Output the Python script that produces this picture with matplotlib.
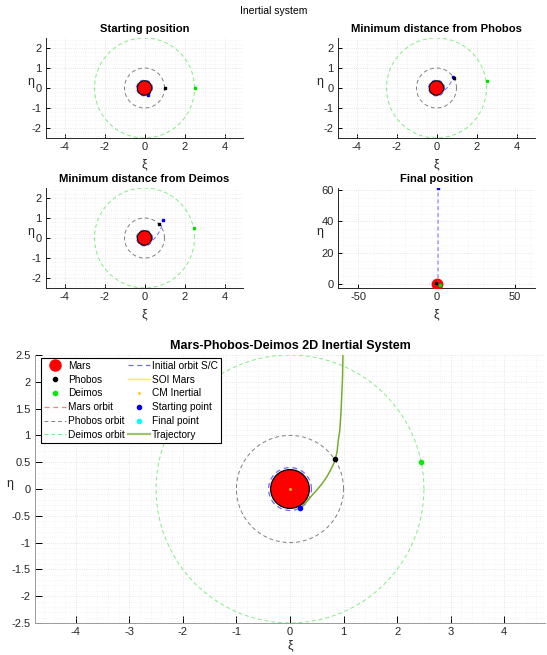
import matplotlib
matplotlib.use("Agg")
import matplotlib.pyplot as plt
from matplotlib.ticker import MultipleLocator, FuncFormatter
from matplotlib.patches import Circle
import numpy as np

plt.rcParams.update({
    "font.family": ["Liberation Sans", "DejaVu Sans"],
    "font.size": 7.5,
    "axes.linewidth": 0.7,
    "axes.unicode_minus": False,
})

C_TXT = "#262626"

# radii in units of the Phobos orbit
R_MARS = 0.3616
R_INIT = 0.40
R_PHOBOS = 1.0
R_DEIMOS = 2.5
R_MARS_ORB = 0.002
R_SOI = 61.5

# S/C trajectory
traj_xi = [0.19, 0.25, 0.31, 0.40, 0.50, 0.60, 0.69, 0.76, 0.81, 0.845,
           0.88, 0.90, 0.93, 0.95, 0.965, 0.98, 0.99, 1.00, 1.02]
traj_eta = [-0.35, -0.30, -0.24, -0.13, -0.02, 0.10, 0.23, 0.36, 0.46, 0.554,
            0.70, 0.90, 1.10, 1.40, 1.72, 2.05, 2.60, 10.0, 61.3]

# snapshots: title, index of S/C on trajectory, Phobos, Deimos positions
snap_titles = ["Starting position", "Minimum distance from Phobos",
               "Minimum distance from Deimos", "Final position"]
snap_idx = [0, 9, 11, 18]
phobos_xi = [1.0, 0.87, 0.70, -0.30]
phobos_eta = [0.0, 0.52, 0.70, 0.95]
deimos_xi = [2.52, 2.50, 2.48, 2.40]
deimos_eta = [0.0, 0.35, 0.48, -0.60]

# main plot body positions
main_phobos = (0.845, 0.554)
main_deimos = (2.45, 0.50)

th = np.linspace(0, 2 * np.pi, 400)
fmt = FuncFormatter(lambda v, p: "%g" % round(v, 6))


def ring(ax, r, **kw):
    return ax.plot(r * np.cos(th), r * np.sin(th), **kw)[0]


def style(ax, xmaj, xmin, ymaj, ymin, spine_col=C_TXT, ticklen=3,
          xl=(0.5, -0.2), yl=(-0.08, 0.56)):
    ax.xaxis.set_major_locator(MultipleLocator(xmaj))
    ax.xaxis.set_minor_locator(MultipleLocator(xmin))
    ax.yaxis.set_major_locator(MultipleLocator(ymaj))
    ax.yaxis.set_minor_locator(MultipleLocator(ymin))
    ax.xaxis.set_major_formatter(fmt)
    ax.yaxis.set_major_formatter(fmt)
    ax.grid(True, which="major", color="#dcdcdc", ls=":", lw=0.6)
    ax.grid(True, which="minor", color="#ececec", ls=":", lw=0.5)
    ax.set_axisbelow(True)
    for s in ("top", "right"):
        ax.spines[s].set_visible(False)
    for s in ("left", "bottom"):
        ax.spines[s].set_color(spine_col)
    ax.tick_params(which="major", direction="in", length=ticklen, width=0.7,
                   color="black", labelcolor=C_TXT, labelsize=8, pad=3)
    ax.tick_params(which="minor", length=0)
    ax.set_xlabel("ξ", fontsize=9, color=C_TXT)
    ax.set_ylabel("η", fontsize=9, color=C_TXT, rotation=0,
                  va="center", ha="center")
    ax.xaxis.set_label_coords(*xl)
    ax.yaxis.set_label_coords(*yl)


W, H = 547, 655
fig = plt.figure(figsize=(W / 100, H / 100), dpi=100, facecolor="white")
fig.text(0.5, 1 - 11 / H, "Inertial system", ha="center", va="center",
         fontsize=7.5, color="black")

boxes = [(46, 38), (338, 38), (46, 188), (338, 188)]
for k, (x0, y0) in enumerate(boxes):
    ax = fig.add_axes([x0 / W, 1 - (y0 + 100) / H, 197 / W, 100 / H])
    i = snap_idx[k]
    final = k == 3
    if not final:
        ring(ax, R_DEIMOS, color="#80ee80", ls=(0, (4, 3)), lw=0.7)
        ring(ax, R_PHOBOS, color="#808080", ls=(0, (4, 3)), lw=0.7)
        ring(ax, R_INIT, color="#6b6bff", ls=(0, (4, 3)), lw=0.7)
        ax.add_patch(Circle((0, 0), R_MARS, fc="red", ec="black", lw=0.8, zorder=3))
    else:
        ax.plot([0], [0], "o", ms=7.5, mfc="red", mec="red", zorder=3)
    ax.plot(traj_xi[:i + 1], traj_eta[:i + 1], color="#6b6bff",
            ls=(0, (4, 3)), lw=0.7, zorder=4)
    ax.plot(traj_xi[i], traj_eta[i], "s", ms=2, color="blue", zorder=2 if k == 0 else 5)
    ax.plot(phobos_xi[k], phobos_eta[k], "s", ms=2, color="black", zorder=5)
    ax.plot(deimos_xi[k], deimos_eta[k], "s", ms=2, color="#00dd00", zorder=5)
    if final:
        ax.set_xlim(-63, 63)
        ax.set_ylim(-2.5, 61.3)
        style(ax, 50, 10, 20, 5, yl=(-0.09, 0.56))
    else:
        ax.set_xlim(-4.925, 4.925)
        ax.set_ylim(-2.5, 2.5)
        style(ax, 2, 0.5, 1, 0.2, yl=(-0.075 if k % 2 == 0 else -0.09, 0.56))
    ax.set_title(snap_titles[k], fontsize=8.1, fontweight="bold", pad=4)

# ── main plot ──
ax = fig.add_axes([35 / W, 1 - 623 / H, 510 / W, 268 / H])
h_mars, = ax.plot([], [], "o", ms=8, color="red", ls="none")
ax.add_patch(Circle((0, 0), R_MARS, fc="red", ec="black", lw=0.9, zorder=3))
h_pho, = ax.plot(*main_phobos, "o", ms=3, color="black", ls="none", zorder=6)
h_dei, = ax.plot(*main_deimos, "o", ms=3, color="#00ee00", ls="none", zorder=6)
h_morb = ring(ax, R_MARS_ORB, color="#ff8080", ls=(0, (4, 3)), lw=0.9)
h_porb = ring(ax, R_PHOBOS, color="#808080", ls=(0, (4, 3)), lw=0.7)
h_dorb = ring(ax, R_DEIMOS, color="#80ee80", ls=(0, (4, 3)), lw=0.7)
h_init = ring(ax, R_INIT, color="#6a6aff", ls=(0, (4, 3)), lw=0.9)
h_soi = ring(ax, R_SOI, color="#ffff00", lw=1)
h_cm, = ax.plot(0, 0, ".", ms=2, color="#ffcc00", ls="none", zorder=7)
h_start, = ax.plot(traj_xi[0], traj_eta[0], "o", ms=3, color="blue", ls="none", zorder=6)
h_fin, = ax.plot(traj_xi[-1], traj_eta[-1], "o", ms=3, color="cyan", ls="none", zorder=6)
h_traj, = ax.plot(traj_xi, traj_eta, color="#77AC30", lw=1.1, zorder=5)
ax.set_xlim(-4.76, 4.76)
ax.set_ylim(-2.5, 2.5)
style(ax, 1, 0.2, 0.5, 0.1, spine_col="#9a9a9a", ticklen=5,
      xl=(0.5, -0.06), yl=(-0.05, 0.52))
ax.set_title("Mars-Phobos-Deimos 2D Inertial System", fontsize=9,
             fontweight="bold", pad=4)

handles = [h_mars, h_pho, h_dei, h_morb, h_porb, h_dorb,
           h_init, h_soi, h_cm, h_start, h_fin, h_traj]
labels = ["Mars", "Phobos", "Deimos", "Mars orbit", "Phobos orbit", "Deimos orbit",
          "Initial orbit S/C", "SOI Mars", "CM Inertial", "Starting point",
          "Final point", "Trajectory"]
leg = ax.legend(handles, labels, ncol=2, loc="upper left",
                bbox_to_anchor=(0.011, 0.99), fontsize=7.3, frameon=True,
                fancybox=False, edgecolor="black", framealpha=1,
                handlelength=2.2, handletextpad=0.2, columnspacing=0.3,
                labelspacing=0.38, borderpad=0.3, borderaxespad=0)
leg.get_frame().set_linewidth(0.8)
leg.legend_handles[-1].set_linewidth(1.6)
leg.legend_handles[-1].set_alpha(0.7)

fig.savefig("out.png", dpi=100, facecolor="white")
